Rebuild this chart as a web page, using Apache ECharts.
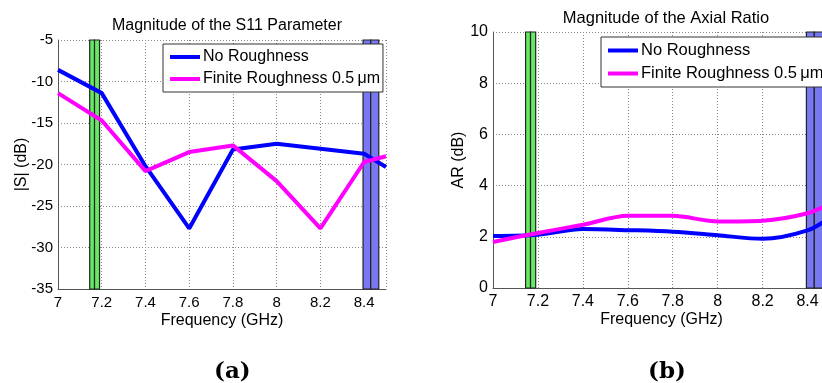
<!DOCTYPE html>
<html>
<head>
<meta charset="utf-8">
<script src="https://cdn.jsdelivr.net/npm/echarts@6/dist/echarts.min.js"></script>
<style>
  html, body { margin: 0; padding: 0; background: #fff; }
  #chart { width: 822px; height: 383px; }
</style>
</head>
<body>
<div id="chart"></div>
<script>
// Frequency sweep (GHz) and |S11| (dB) for the two surface models
const freqS11 = [7.0, 7.2, 7.4, 7.6, 7.8, 8.0, 8.2, 8.4, 8.5];
const s11NoRough = [-8.6, -11.4, -20.2, -27.7, -18.2, -17.5, -18.1, -18.7, -20.3];
const s11Rough = [-11.4, -14.7, -20.8, -18.5, -17.7, -22.0, -27.7, -19.7, -19.0];

// Axial ratio (dB) over the same sweep
const freqAR = [7.0, 7.2, 7.4, 7.6, 7.8, 8.0, 8.2, 8.4, 8.5];
const arNoRough = [2.03, 2.08, 2.3, 2.26, 2.2, 2.06, 1.92, 2.25, 2.75];
const arRough = [1.8, 2.15, 2.47, 2.82, 2.82, 2.6, 2.63, 2.92, 3.3];

// Operating bands (GHz): edges with a divider in between
const bandLow = [7.145, 7.167, 7.19];
const bandHigh = [8.395, 8.43, 8.467];

const seriesNames = ['No Roughness', 'Finite Roughness 0.5\u2009\u03bcm'];
const captions = ['(a)', '(b)'];
const titles = ['Magnitude of the S11 Parameter', 'Magnitude of the Axial Ratio'];

const FONT = 'Liberation Sans, Arial, sans-serif';
const BLUE = '#0000ff';
const MAGENTA = '#ff00ff';

const pairs = (xs, ys) => xs.map((x, i) => [x, ys[i]]);

function bandAreas(edges, color) {
  const areas = [];
  for (let i = 0; i < edges.length - 1; i++) {
    areas.push([{ xAxis: edges[i] }, { xAxis: edges[i + 1] }]);
  }
  return {
    silent: true,
    itemStyle: { color: color, borderColor: '#222', borderWidth: 1.2, opacity: 1 },
    data: areas
  };
}

function xAxisCfg(idx, fontSize) {
  return {
    type: 'value', gridIndex: idx, min: 7, max: 8.5, interval: 0.2,
    name: 'Frequency (GHz)', nameLocation: 'middle', nameGap: 24, nameMoveOverlap: false,
    nameTextStyle: { fontFamily: FONT, fontSize: 16, color: '#000' },
    axisLine: { show: true, onZero: false, lineStyle: { color: '#555', width: 1 } },
    axisTick: { show: false },
    axisLabel: { showMaxLabel: false, fontFamily: FONT, fontSize: fontSize, color: '#000', margin: 6 },
    splitLine: { show: true, lineStyle: { type: [1, 2], color: '#888', width: 1 } }
  };
}

function yAxisCfg(idx, min, max, interval, name, gap, fontSize) {
  return {
    type: 'value', gridIndex: idx, min: min, max: max, interval: interval,
    name: name, nameLocation: 'middle', nameGap: gap, nameMoveOverlap: false,
    nameTextStyle: { fontFamily: FONT, fontSize: 16, color: '#000' },
    axisLine: { show: true, onZero: false, lineStyle: { color: '#555', width: 1 } },
    axisTick: { show: false },
    axisLabel: { fontFamily: FONT, fontSize: fontSize, color: '#000', margin: 5 },
    splitLine: { show: true, lineStyle: { type: [1, 2], color: '#888', width: 1 } }
  };
}

function legendCfg(left, top, fontSize) {
  return {
    left: left, top: top, orient: 'vertical',
    data: seriesNames.map(n => ({ name: n, icon: 'rect' })),
    itemWidth: 30, itemHeight: 4, itemGap: 6,
    padding: [5, 3, 5, 7],
    backgroundColor: '#fff', borderColor: '#333', borderWidth: 1, borderRadius: 0,
    textStyle: { fontFamily: FONT, fontSize: fontSize, color: '#000', padding: [0, 0, 0, -2] },
    selectedMode: false,
    z: 10
  };
}

const lineStyle = (c) => ({ color: c, width: 4 });

const option = {
  animation: false,
  backgroundColor: '#fff',
  title: [
    { text: titles[0], left: 222, top: 13, textAlign: 'center',
      textStyle: { fontFamily: FONT, fontSize: 16, fontWeight: 'normal', color: '#000' } },
    { text: titles[1], left: 661, top: 5, textAlign: 'center',
      textStyle: { fontFamily: FONT, fontSize: 16.5, fontWeight: 'normal', color: '#000' } }
  ],
  legend: [legendCfg(163, 44, 16), legendCfg(601, 37, 16.5)],
  grid: [
    { left: 58, top: 40, width: 328, height: 249, outerBoundsMode: 'none' },
    { left: 493, top: 32, width: 337, height: 256, outerBoundsMode: 'none' }
  ],
  xAxis: [xAxisCfg(0, 15), xAxisCfg(1, 16)],
  yAxis: [
    yAxisCfg(0, -35, -5, 5, '|S| (dB)', 28, 15),
    yAxisCfg(1, 0, 10, 2, 'AR (dB)', 26, 16)
  ],
  series: [
    { type: 'line', xAxisIndex: 0, yAxisIndex: 0, data: [], z: 1, markArea: bandAreas(bandLow, '#66e866') },
    { type: 'line', xAxisIndex: 0, yAxisIndex: 0, data: [], z: 1, markArea: bandAreas(bandHigh, '#7878f2') },
    { type: 'line', xAxisIndex: 1, yAxisIndex: 1, data: [], z: 1, markArea: bandAreas(bandLow, '#66e866') },
    { type: 'line', xAxisIndex: 1, yAxisIndex: 1, data: [], z: 1, markArea: bandAreas(bandHigh, '#7878f2') },
    { name: seriesNames[0], type: 'line', xAxisIndex: 0, yAxisIndex: 0, z: 3,
      data: pairs(freqS11, s11NoRough), showSymbol: false, color: BLUE, lineStyle: lineStyle(BLUE) },
    { name: seriesNames[1], type: 'line', xAxisIndex: 0, yAxisIndex: 0, z: 3,
      data: pairs(freqS11, s11Rough), showSymbol: false, color: MAGENTA, lineStyle: lineStyle(MAGENTA) },
    { name: seriesNames[0], type: 'line', xAxisIndex: 1, yAxisIndex: 1, z: 3, smooth: 0.3,
      data: pairs(freqAR, arNoRough), showSymbol: false, color: BLUE, lineStyle: lineStyle(BLUE) },
    { name: seriesNames[1], type: 'line', xAxisIndex: 1, yAxisIndex: 1, z: 3, smooth: 0.3,
      data: pairs(freqAR, arRough), showSymbol: false, color: MAGENTA, lineStyle: lineStyle(MAGENTA) }
  ],
  graphic: [
    { type: 'text', left: 214, top: 361, style: { text: captions[0], x: 0, y: 0,
      font: 'bold 23px "DejaVu Serif", serif', fill: '#000', textAlign: 'center', textVerticalAlign: 'middle' } },
    { type: 'text', left: 648, top: 361, style: { text: captions[1], x: 0, y: 0,
      font: 'bold 23px "DejaVu Serif", serif', fill: '#000', textAlign: 'center', textVerticalAlign: 'middle' } }
  ]
};

const chart = echarts.init(document.getElementById('chart'), null, { renderer: 'canvas' });
chart.setOption(option);
</script>
</body>
</html>
